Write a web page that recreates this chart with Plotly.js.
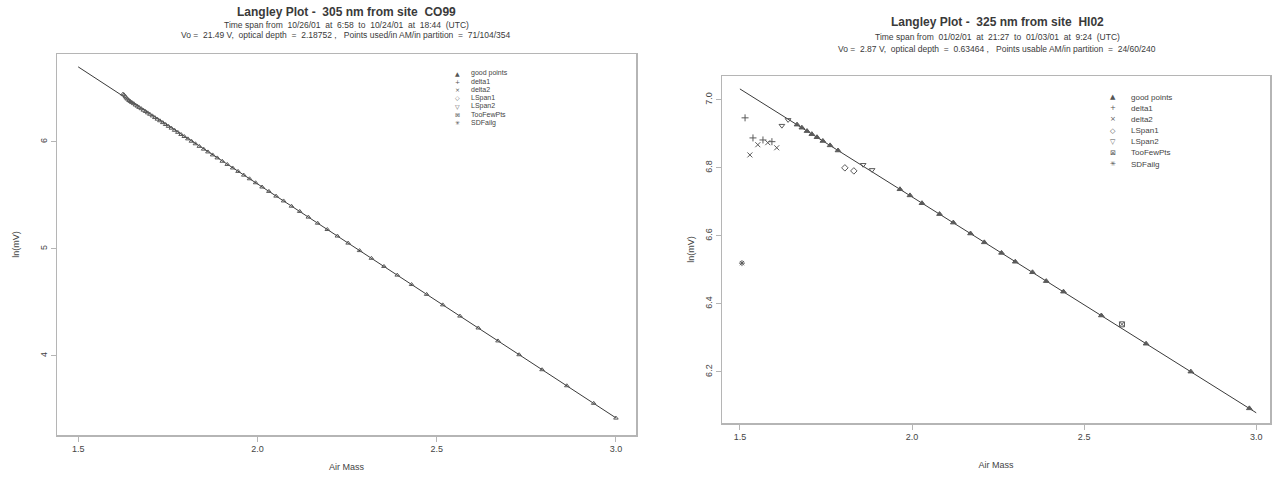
<!DOCTYPE html>
<html><head><meta charset="utf-8">
<script src="https://cdn.plot.ly/plotly-3.0.1.min.js"></script>
<style>html,body{margin:0;padding:0;background:#fff}#chart{width:1277px;height:477px}</style>
</head><body><div id="chart"></div>
<script>
// ---- Left panel data (305 nm, site CO99) ----
const leftGoodX = [1.625,1.628,1.632,1.635,1.638,1.642,1.646,1.650,1.655,1.660,1.665,1.670,1.676,1.682,1.688,1.694,1.700,1.707,1.714,1.721,1.728,1.736,1.744,1.752,1.760,1.769,1.778,1.787,1.796,1.806,1.816,1.827,1.838,1.850,1.862,1.875,1.888,1.902,1.916,1.931,1.946,1.962,1.978,1.995,2.013,2.032,2.052,2.073,2.095,2.118,2.142,2.168,2.195,2.223,2.253,2.285,2.318,2.353,2.390,2.430,2.472,2.517,2.565,2.616,2.671,2.730,2.794,2.863,2.938,3.000];
const leftGoodY = [6.445,6.438,6.420,6.408,6.398,6.385,6.376,6.366,6.356,6.343,6.333,6.321,6.309,6.295,6.283,6.270,6.257,6.242,6.226,6.211,6.196,6.179,6.161,6.144,6.127,6.107,6.088,6.068,6.049,6.027,6.005,5.981,5.957,5.931,5.905,5.877,5.849,5.818,5.788,5.755,5.723,5.688,5.654,5.617,5.577,5.536,5.492,5.447,5.398,5.349,5.296,5.239,5.180,5.119,5.053,4.983,4.911,4.835,4.754,4.666,4.574,4.476,4.371,4.260,4.139,4.010,3.870,3.720,3.556,3.418];
const leftFitX = [1.5, 3.0];
const leftFitY = [6.70, 3.42];

// ---- Right panel data (325 nm, site HI02) ----
const rightGoodX = [1.666,1.680,1.695,1.709,1.724,1.741,1.762,1.785,1.965,1.994,2.029,2.08,2.12,2.17,2.21,2.26,2.30,2.35,2.39,2.44,2.55,2.68,2.81,2.98];
const rightGoodY = [6.927,6.918,6.908,6.899,6.890,6.879,6.866,6.851,6.737,6.719,6.696,6.664,6.639,6.607,6.581,6.550,6.524,6.493,6.467,6.436,6.366,6.283,6.201,6.093];
const rightDelta1X = [1.515,1.538,1.567,1.593];
const rightDelta1Y = [6.947,6.888,6.882,6.877];
const rightDelta2X = [1.552,1.581,1.607,1.529];
const rightDelta2Y = [6.868,6.874,6.859,6.838];
const rightLSpan1X = [1.805,1.831];
const rightLSpan1Y = [6.800,6.791];
const rightLSpan2X = [1.622,1.640,1.858,1.884];
const rightLSpan2Y = [6.924,6.941,6.809,6.794];
const rightTooFewX = [2.61];
const rightTooFewY = [6.340];
const rightSDFX = [1.506];
const rightSDFY = [6.52];
const rightFitX = [1.5, 3.0];
const rightFitY = [7.032, 6.080];

const xTicks = [1.5, 2.0, 2.5, 3.0];
const legendLabels = ["good points","delta1","delta2","LSpan1","LSpan2","TooFewPts","SDFailg"];
const legendSymbols = ["\u25B2","+","\u00D7","\u25C7","\u25BD","\u22A0","\u2733"];

const leftTitle = "Langley Plot -  305 nm from site  CO99";
const leftSub1 = "Time span from  10/26/01  at  6:58  to  10/24/01  at  18:44  (UTC)";
const leftSub2 = "Vo =  21.49 V,  optical depth  =  2.18752 ,   Points used/in AM/in partition  =  71/104/354";
const rightTitle = "Langley Plot -  325 nm from site  HI02";
const rightSub1 = "Time span from  01/02/01  at  21:27  to  01/03/01  at  9:24  (UTC)";
const rightSub2 = "Vo =  2.87 V,  optical depth  =  0.63464 ,   Points usable AM/in partition  =  24/60/240";

const W = 1277, H = 477;
const px = v => v / W, py = v => 1 - v / H;
const ptColor = '#5a5a5a';
function pts(x, y, sym, xa, ya, size) {
  return {x, y, type:'scatter', mode:'markers', xaxis:xa, yaxis:ya, showlegend:false,
    marker:{symbol:sym, size:size||5, color:ptColor, line:{width:1, color:ptColor}}, hoverinfo:'skip'};
}
function fit(x, y, xa, ya) {
  return {x, y, type:'scatter', mode:'lines', xaxis:xa, yaxis:ya, showlegend:false,
    line:{color:'#3a3a3a', width:1}, hoverinfo:'skip'};
}
const traces = [
  fit(leftFitX, leftFitY, 'x', 'y'),
  pts(leftGoodX, leftGoodY, 'triangle-up-open', 'x', 'y', 4),
  fit(rightFitX, rightFitY, 'x2', 'y2'),
  pts(rightGoodX, rightGoodY, 'triangle-up', 'x2', 'y2', 5),
  pts(rightDelta1X, rightDelta1Y, 'cross-thin-open', 'x2', 'y2', 5),
  pts(rightDelta2X, rightDelta2Y, 'x-thin-open', 'x2', 'y2', 5),
  pts(rightLSpan1X, rightLSpan1Y, 'diamond-open', 'x2', 'y2', 5),
  pts(rightLSpan2X, rightLSpan2Y, 'triangle-down-open', 'x2', 'y2', 5),
  pts(rightTooFewX, rightTooFewY, 'square-x-open', 'x2', 'y2', 5),
  pts(rightSDFX, rightSDFY, 'asterisk-open', 'x2', 'y2', 5)
];

const axisCommon = {showline:true, mirror:true, linecolor:'#b5b5b5', linewidth:1.5,
  ticks:'outside', ticklen:5, tickcolor:'#b5b5b5', tickwidth:1, showgrid:false, zeroline:false,
  tickfont:{family:'Liberation Sans, Arial, sans-serif', size:9, color:'#444'}};
const titleFont = {family:'Liberation Sans, Arial, sans-serif', size:9, color:'#444'};

const annotations = [];
function txt(text, x, y, size, bold, anchor) {
  annotations.push({text: bold ? '<b>'+text+'</b>' : text, xref:'paper', yref:'paper', x:px(x), y:py(y),
    xanchor:anchor||'center', yanchor:'middle', showarrow:false,
    font:{family:'Liberation Sans, Arial, sans-serif', size:size, color:'#3a3a3a'}});
}
txt(leftTitle, 346, 12, 12, true);
txt(leftSub1, 346, 25, 8.5, false);
txt(leftSub2, 346, 35, 8.5, false);
txt(rightTitle, 997, 22, 12, true);
txt(rightSub1, 997, 37, 8.5, false);
txt(rightSub2, 997, 49, 8.5, false);

for (let i = 0; i < legendLabels.length; i++) {
  const yl = 73 + i * 8.3;
  annotations.push({text:legendSymbols[i], xref:'paper', yref:'paper', x:px(457), y:py(yl), xanchor:'center', yanchor:'middle', showarrow:false, font:{family:'DejaVu Sans, sans-serif', size:6, color:'#555'}});
  annotations.push({text:legendLabels[i], xref:'paper', yref:'paper', x:px(469), y:py(yl), xanchor:'left', yanchor:'middle', showarrow:false, font:{family:'Liberation Sans, Arial, sans-serif', size:7, color:'#444'}});
  const yr = 97 + i * 11.2;
  annotations.push({text:legendSymbols[i], xref:'paper', yref:'paper', x:px(1113), y:py(yr), xanchor:'center', yanchor:'middle', showarrow:false, font:{family:'DejaVu Sans, sans-serif', size:7, color:'#555'}});
  annotations.push({text:legendLabels[i], xref:'paper', yref:'paper', x:px(1129), y:py(yr), xanchor:'left', yanchor:'middle', showarrow:false, font:{family:'Liberation Sans, Arial, sans-serif', size:8, color:'#444'}});
}

const layout = {
  width: W, height: H, margin:{l:0, r:0, t:0, b:0},
  paper_bgcolor:'#fff', plot_bgcolor:'#fff', showlegend:false,
  xaxis: Object.assign({}, axisCommon, {domain:[px(57), px(636)], range:[1.441, 3.056], anchor:'y',
    tickvals:xTicks, tickformat:'.1f', title:{text:'Air Mass', font:titleFont, standoff:10}}),
  yaxis: Object.assign({}, axisCommon, {domain:[py(435), py(54)], range:[3.26, 6.82], anchor:'x',
    dtick:1, tickangle:-90, title:{text:'ln(mV)', font:titleFont, standoff:18}}),
  xaxis2: Object.assign({}, axisCommon, {domain:[px(722), px(1270)], range:[1.448, 3.040], anchor:'y2',
    tickvals:xTicks, tickformat:'.1f', title:{text:'Air Mass', font:titleFont, standoff:20}}),
  yaxis2: Object.assign({}, axisCommon, {domain:[py(423), py(76)], range:[6.05, 7.07], anchor:'x2',
    dtick:0.2, tickformat:'.1f', tickangle:-90, title:{text:'ln(mV)', font:titleFont, standoff:8}}),
  annotations
};
Plotly.newPlot('chart', traces, layout, {staticPlot:true, displayModeBar:false});
</script>
</body></html>
